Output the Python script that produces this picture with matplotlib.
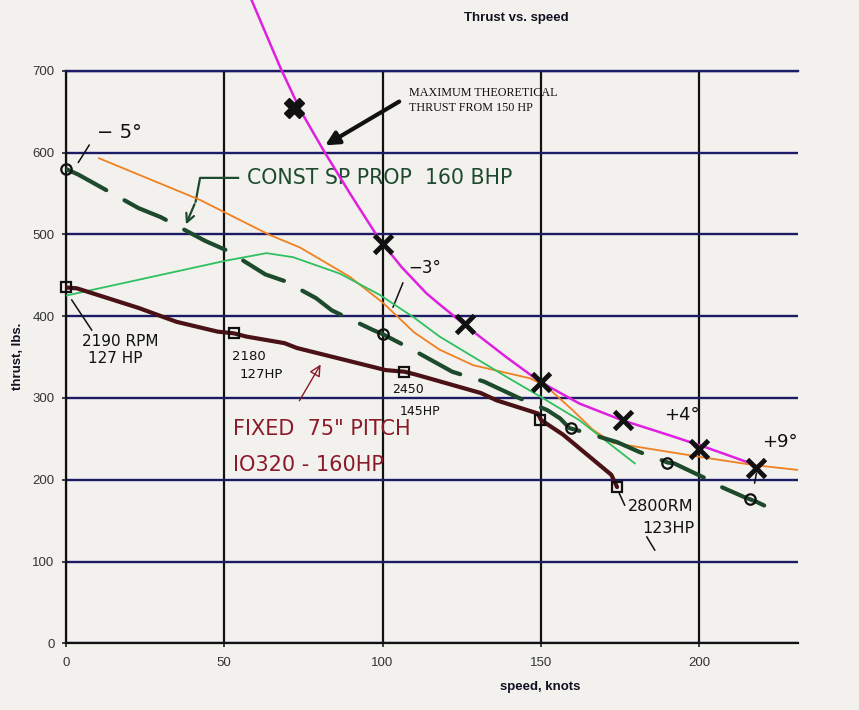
import matplotlib
matplotlib.use("Agg")
import matplotlib.pyplot as plt

# ----------- Data -----------

# magenta: maximum theoretical thrust from 150 HP
max_speed = [58.7, 63.2, 67.6, 74, 81.3, 89.7, 99.1, 106, 113.8, 118.1, 127, 139,
             149.6, 162.2, 175.4, 189.6, 201, 209, 216.9]
max_thrust = [786, 745, 705, 652, 603, 550, 493, 460, 428, 414, 386, 350,
              320, 293, 273, 255.5, 241, 230, 219]
x_speed = [72, 100, 126, 150, 176, 200, 218]
x_thrust = [655, 488, 390, 319, 273, 238, 214]

# orange curve
orange_speed = [10.5, 42.4, 64.5, 73.9, 89.7, 100.2, 110, 118, 128.6, 146.5, 151.7,
                160, 166.4, 172.7, 200, 217, 231]
orange_thrust = [593, 542, 499, 484, 448, 416, 380, 359, 340, 324, 314,
                 285, 261, 245, 228, 218, 212]

# green curve
green_speed = [0, 50.8, 63.4, 71.8, 86.5, 99.1, 110, 118, 139, 149.6, 162, 179.6]
green_thrust = [425, 468, 477, 472, 452, 426, 398, 375, 326, 302, 273, 220]

# dark green dashes: constant speed prop 160 BHP
csp_speed = [0, 4, 23, 30, 44, 51, 63, 69, 79, 84, 97, 100, 108, 122, 132, 143,
             152, 156, 159, 161, 174, 181, 188, 190, 192, 205, 207, 214, 216, 218, 225]
csp_thrust = [580, 573, 532, 521, 492, 480, 451, 443, 422, 407, 383, 378, 362, 332, 320, 300,
              285, 275, 263, 261, 246, 234, 224, 221, 220, 196, 191, 179, 176, 173, 160]
csp_pt_speed = [0, 100, 159.4, 189.8, 215.9]
csp_pt_thrust = [580, 378, 263, 221, 176]

# maroon: fixed 75" pitch
fixed_speed = [0, 3.5, 23, 35, 48, 53, 57, 69, 73, 101, 107, 111, 131, 136, 149, 150,
               157, 172.2, 174]
fixed_thrust = [435, 434, 410, 393, 381, 379, 375, 367, 361, 334, 332, 328, 306, 297, 281, 273,
                255, 206, 191]
fixed_pt_speed = [0, 53.2, 106.8, 149.6, 174]
fixed_pt_thrust = [435, 379, 332, 273, 191]

x_ticks = [0, 50, 100, 150, 200]
y_ticks = [0, 100, 200, 300, 400, 500, 600, 700]

# ----------- Plot -----------

paper = "#f3f1ed"
hand = "DejaVu Sans"

fig = plt.figure(figsize=(8.59, 7.10), dpi=100, facecolor=paper)
ax = fig.add_axes([0.0765, 0.0939, 0.8521, 0.8065], facecolor=paper)

ax.set_xlim(0, 231)
ax.set_ylim(0, 700)
ax.set_xticks(x_ticks)
ax.set_yticks(y_ticks)
ax.set_axisbelow(True)
ax.xaxis.grid(True, color="#121212", lw=1.6)
ax.yaxis.grid(True, color="#1c1c66", lw=1.7)
ax.spines["right"].set_visible(False)
ax.spines["top"].set_color("#1c1c66")
ax.spines["top"].set_linewidth(1.7)
for s in ["left", "bottom"]:
    ax.spines[s].set_color("#111111")
    ax.spines[s].set_linewidth(1.6)
ax.tick_params(axis="both", length=3, width=1.2, color="#222222",
               labelsize=9.5, labelcolor="#333333")
ax.tick_params(axis="x", pad=7)
ax.tick_params(axis="y", pad=5)
for lab in ax.get_xticklabels() + ax.get_yticklabels():
    lab.set_family("Liberation Sans")

ax.plot(orange_speed, orange_thrust, color="#f08020", lw=1.3, zorder=3)
ax.plot(green_speed, green_thrust, color="#2ec060", lw=1.3, zorder=3)
ax.plot(max_speed, max_thrust, color="#e020e0", lw=1.8, zorder=4, clip_on=False,
        solid_joinstyle="round")

ax.plot(csp_speed, csp_thrust, color="#1d4a2c", lw=3, ls=(0, (11, 5)),
        solid_capstyle="round", dash_capstyle="round", zorder=5)
ax.plot(csp_pt_speed, csp_pt_thrust, ls="none", marker="o", ms=7.5, mfc="none",
        mec="#111111", mew=1.6, zorder=6, clip_on=False)

ax.plot(fixed_speed, fixed_thrust, color="#4a1216", lw=3, zorder=5,
        solid_capstyle="round")
ax.plot(fixed_pt_speed, fixed_pt_thrust, ls="none", marker="s", ms=6.5, mfc="none",
        mec="#111111", mew=1.6, zorder=6, clip_on=False)

ax.plot(x_speed[:1], x_thrust[:1], ls="none", marker="X", ms=14, color="#111111", zorder=7)
ax.plot(x_speed[1:], x_thrust[1:], ls="none", marker="x", ms=13, mew=3.5,
        color="#111111", zorder=7)

# ----------- Titles -----------

fig.text(0.6015, 0.975, "Thrust vs. speed", ha="center", va="center",
         fontsize=9.5, fontweight="bold", family="Liberation Sans", color="#111122")
fig.text(0.6286, 0.0328, "speed, knots", ha="center", va="center",
         fontsize=9.5, fontweight="bold", family="Liberation Sans", color="#111122")
fig.text(0.021, 0.4986, "thrust, lbs.", ha="center", va="center", rotation=90,
         fontsize=9.5, fontweight="bold", family="Liberation Sans", color="#111122")

# ----------- Annotations -----------

ax.text(108.3, 680, "MAXIMUM THEORETICAL\nTHRUST FROM 150 HP", ha="left", va="top",
        fontsize=8.7, family="Liberation Serif", color="#111111", linespacing=1.3)
ax.annotate("", xy=(81.1, 607), xytext=(106, 664),
            arrowprops=dict(arrowstyle="-|>,head_length=0.8,head_width=0.4",
                            lw=3, color="#111111"))

ax.text(57.1, 569, "CONST SP PROP  160 BHP", ha="left", va="center",
        fontsize=14.8, family=hand, color="#1d4a2c")
ax.plot([54.4, 42.4, 41.0], [569, 569, 540], color="#1d4a2c", lw=1.6)
ax.annotate("", xy=(37.6, 509), xytext=(41.0, 540),
            arrowprops=dict(arrowstyle="->,head_length=0.6,head_width=0.3",
                            lw=1.6, color="#1d4a2c"))

ax.text(52.8, 262, "FIXED  75\" PITCH", ha="left", va="center",
        fontsize=15, family=hand, color="#8a1a28")
ax.text(52.8, 218.6, "IO320 - 160HP", ha="left", va="center",
        fontsize=15, family=hand, color="#8a1a28")
ax.annotate("", xy=(80.9, 343.8), xytext=(73.3, 293.6),
            arrowprops=dict(arrowstyle="-|>,head_length=0.7,head_width=0.35",
                            lw=1, color="#8a1a28", fc="none"))

notes = [
    (9.9, 624, "\u2212 5\u00b0", 14),
    (108, 459, "\u22123\u00b0", 12),
    (189, 279, "+4\u00b0", 13),
    (219.7, 246, "+9\u00b0", 13),
    (5.1, 369, "2190 RPM", 11),
    (7, 348, "127 HP", 11),
    (52.5, 350.6, "2180", 9.5),
    (55, 328.6, "127HP", 9.5),
    (103, 309.7, "2450", 9),
    (105.5, 282.8, "145HP", 9),
    (177.4, 167, "2800RM", 11.5),
    (182.1, 140.3, "123HP", 11.5),
]
for nx, ny, txt, fs in notes:
    ax.text(nx, ny, txt, ha="left", va="center", fontsize=fs, family=hand,
            color="#111111")

leaders = [
    ([4.0, 7.4], [588, 609]),
    ([106.4, 103.3], [440.5, 411]),
    ([1.9, 8.2], [419.7, 383]),
    ([218, 217.4], [208, 196]),
    ([174.5, 176.4], [185, 169]),
    ([183.4, 185.9], [130, 114]),
]
for lx, ly in leaders:
    ax.plot(lx, ly, color="#111111", lw=1.1)

fig.savefig("out.png", dpi=100, facecolor=paper)
